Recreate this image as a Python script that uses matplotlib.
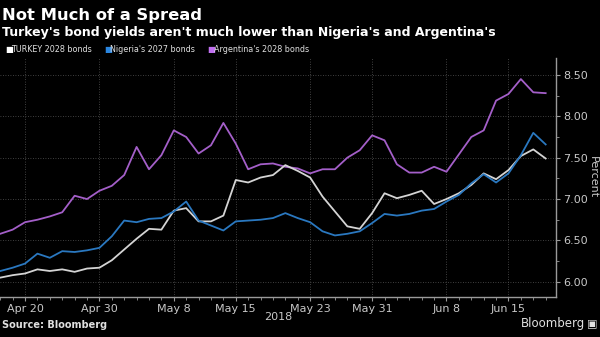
import numpy as np
import pandas as pd
import matplotlib
matplotlib.use('Agg')
import matplotlib.pyplot as plt
from matplotlib.ticker import FixedLocator, MultipleLocator

# business days Apr 18 - Jun 20 2018 (Memorial Day skipped)
dates = pd.bdate_range('2018-04-18', '2018-06-20')
dates = dates[dates != pd.Timestamp('2018-05-28')]

turkey = [6.05, 6.08, 6.10, 6.15, 6.13, 6.15, 6.12, 6.16, 6.17, 6.26,
          6.39, 6.52, 6.64, 6.63, 6.86, 6.89, 6.73, 6.73, 6.80, 7.23,
          7.20, 7.26, 7.29, 7.41, 7.34, 7.26, 7.03, 6.85, 6.67, 6.64,
          6.83, 7.07, 7.01, 7.05, 7.10, 6.94, 7.00, 7.07, 7.17, 7.31,
          7.24, 7.35, 7.52, 7.60, 7.49]
nigeria = [6.13, 6.17, 6.22, 6.34, 6.29, 6.37, 6.36, 6.38, 6.41, 6.55,
           6.74, 6.72, 6.76, 6.77, 6.85, 6.97, 6.74, 6.68, 6.62, 6.73,
           6.74, 6.75, 6.77, 6.83, 6.77, 6.72, 6.61, 6.56, 6.58, 6.61,
           6.71, 6.82, 6.80, 6.82, 6.86, 6.88, 6.97, 7.05, 7.19, 7.30,
           7.20, 7.31, 7.53, 7.80, 7.66]
argentina = [6.58, 6.63, 6.72, 6.75, 6.79, 6.84, 7.04, 7.00, 7.10, 7.16,
             7.29, 7.63, 7.36, 7.53, 7.83, 7.75, 7.55, 7.65, 7.92, 7.67,
             7.36, 7.42, 7.43, 7.39, 7.37, 7.31, 7.36, 7.36, 7.50, 7.59,
             7.77, 7.71, 7.42, 7.32, 7.32, 7.39, 7.33, 7.54, 7.75, 7.83,
             8.19, 8.27, 8.45, 8.29, 8.28]

tick_dates = ['2018-04-20', '2018-04-30', '2018-05-08', '2018-05-15',
              '2018-05-23', '2018-05-31', '2018-06-08', '2018-06-15']
tick_labels = ['Apr 20', 'Apr 30', 'May 8', 'May 15', 'May 23', 'May 31',
               'Jun 8', 'Jun 15']
y_ticks = [6.0, 6.5, 7.0, 7.5, 8.0, 8.5]

x = np.arange(len(dates))
tick_pos = [list(dates).index(pd.Timestamp(d)) for d in tick_dates]

fig = plt.figure(figsize=(6, 3.37), dpi=100, facecolor='black')
ax = fig.add_axes([0.0, 0.1187, 0.927, 0.709], facecolor='black')

c_tr = '#d4d4d4'
c_ng = '#2a78c0'
c_ar = '#a45fc9'
ax.plot(x, argentina, color=c_ar, lw=1.3)
ax.plot(x, turkey, color=c_tr, lw=1.3)
ax.plot(x, nigeria, color=c_ng, lw=1.3)

ax.set_xlim(-0.02, 44.85)
ax.set_ylim(5.816, 8.704)

ax.xaxis.set_major_locator(FixedLocator(tick_pos))
ax.xaxis.set_minor_locator(MultipleLocator(1))
ax.set_xticklabels(tick_labels)
ax.set_yticks(y_ticks)
ax.set_yticklabels(['%.2f' % v for v in y_ticks])
ax.yaxis.set_minor_locator(MultipleLocator(0.25))
ax.yaxis.tick_right()
ax.yaxis.set_label_position('right')
ax.set_ylabel('Percent', color='#c8c8c8', fontsize=8, rotation=270, va='center')
ax.yaxis.set_label_coords(1.066, 0.5)

ax.grid(True, color='#555555', ls=(0, (1, 2)), lw=0.6)
for s in ['left', 'top']:
    ax.spines[s].set_visible(False)
for s in ['right', 'bottom']:
    ax.spines[s].set_color('#9a9a9a')
    ax.spines[s].set_linewidth(1.0)
ax.tick_params(colors='#9a9a9a', labelcolor='#c8c8c8', labelsize=8,
               length=3, width=0.8, pad=2)
ax.tick_params(which='minor', colors='#9a9a9a', length=2, width=0.6)

fig.text(0.463, 0.045, '2018', color='#c8c8c8', fontsize=8, ha='center', va='bottom')

fig.text(0.004, 0.955, 'Not Much of a Spread', color='white', fontsize=11.8,
         fontweight='bold', va='center')
fig.text(0.004, 0.905, "Turkey's bond yields aren't much lower than Nigeria's and Argentina's",
         color='white', fontsize=9.0, fontweight='bold', va='center')

legend = [('TURKEY 2028 bonds', '#ffffff'), ("Nigeria's 2027 bonds", '#2a86e0'),
          ("Argentina's 2028 bonds", '#c070f0')]
lx = [0.008, 0.173, 0.345]
for (name, col), px in zip(legend, lx):
    fig.text(px, 0.852, '\u25a0', color=col, fontsize=6, va='center')
    fig.text(px + 0.011, 0.852, name, color='#e0e0e0', fontsize=5.8, va='center')

fig.text(0.004, 0.02, 'Source: Bloomberg', color='#e0e0e0', fontsize=7,
         fontweight='bold', va='bottom')
fig.text(0.975, 0.022, 'Bloomberg', color='#e0e0e0', fontsize=8.5,
         ha='right', va='bottom')
fig.text(0.996, 0.022, '\u25a3', color='#e0e0e0', fontsize=8, ha='right', va='bottom')

fig.savefig('out.png', dpi=100, facecolor='black')
